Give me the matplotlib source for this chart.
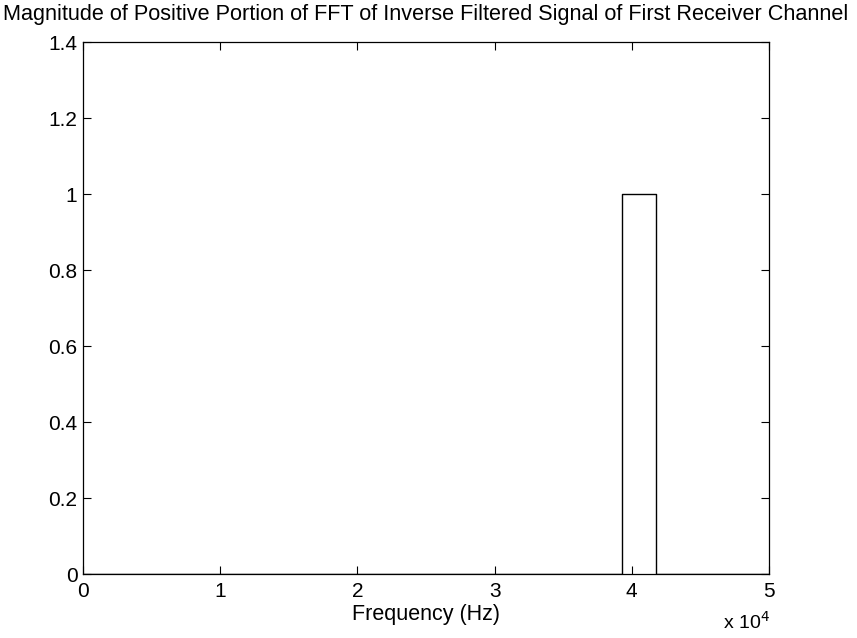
import numpy as np
import matplotlib
matplotlib.use("Agg")
import matplotlib.pyplot as plt

# Spettro: zero ovunque tranne una banda attorno a 40 kHz
frequenze = [0, 39300, 39300, 41800, 41800, 50000]
ampiezze = [0, 0, 1, 1, 0, 0]

plt.rcParams["font.family"] = ["Liberation Sans", "DejaVu Sans"]

fig = plt.figure(figsize=(8.57, 6.38), dpi=100)
ax = fig.add_axes([0.0969, 0.1003, 0.8004, 0.8337])
ax.plot(frequenze, ampiezze, color="black", linewidth=1)
ax.set_xlim(0, 50000)
ax.set_ylim(0, 1.4)
ax.set_xticks(np.arange(0, 50001, 10000))
ax.set_xticklabels(["0", "1", "2", "3", "4", "5"])
ax.set_yticks(np.arange(0, 1.41, 0.2))
ax.set_yticklabels(["0", "0.2", "0.4", "0.6", "0.8", "1", "1.2", "1.4"])
ax.tick_params(direction="in", length=6, labelsize=15, top=True, right=True, width=0.8)
ax.tick_params(axis="x", pad=5.5)
ax.tick_params(axis="y", pad=4)
for s in ax.spines.values():
    s.set_linewidth(0.9)
ax.set_xlabel("Frequency (Hz)", fontsize=15.5, labelpad=2.5)
ax.set_title("Magnitude of Positive Portion of FFT of Inverse Filtered Signal of First Receiver Channel",
             fontsize=15.6, pad=16)
# moltiplicatore dell'asse x, in basso a destra come in MATLAB
fig.text(0.898, 0.014, r"x 10$^4$", fontsize=14, ha="right", va="baseline")
fig.savefig("out.png", dpi=100)
